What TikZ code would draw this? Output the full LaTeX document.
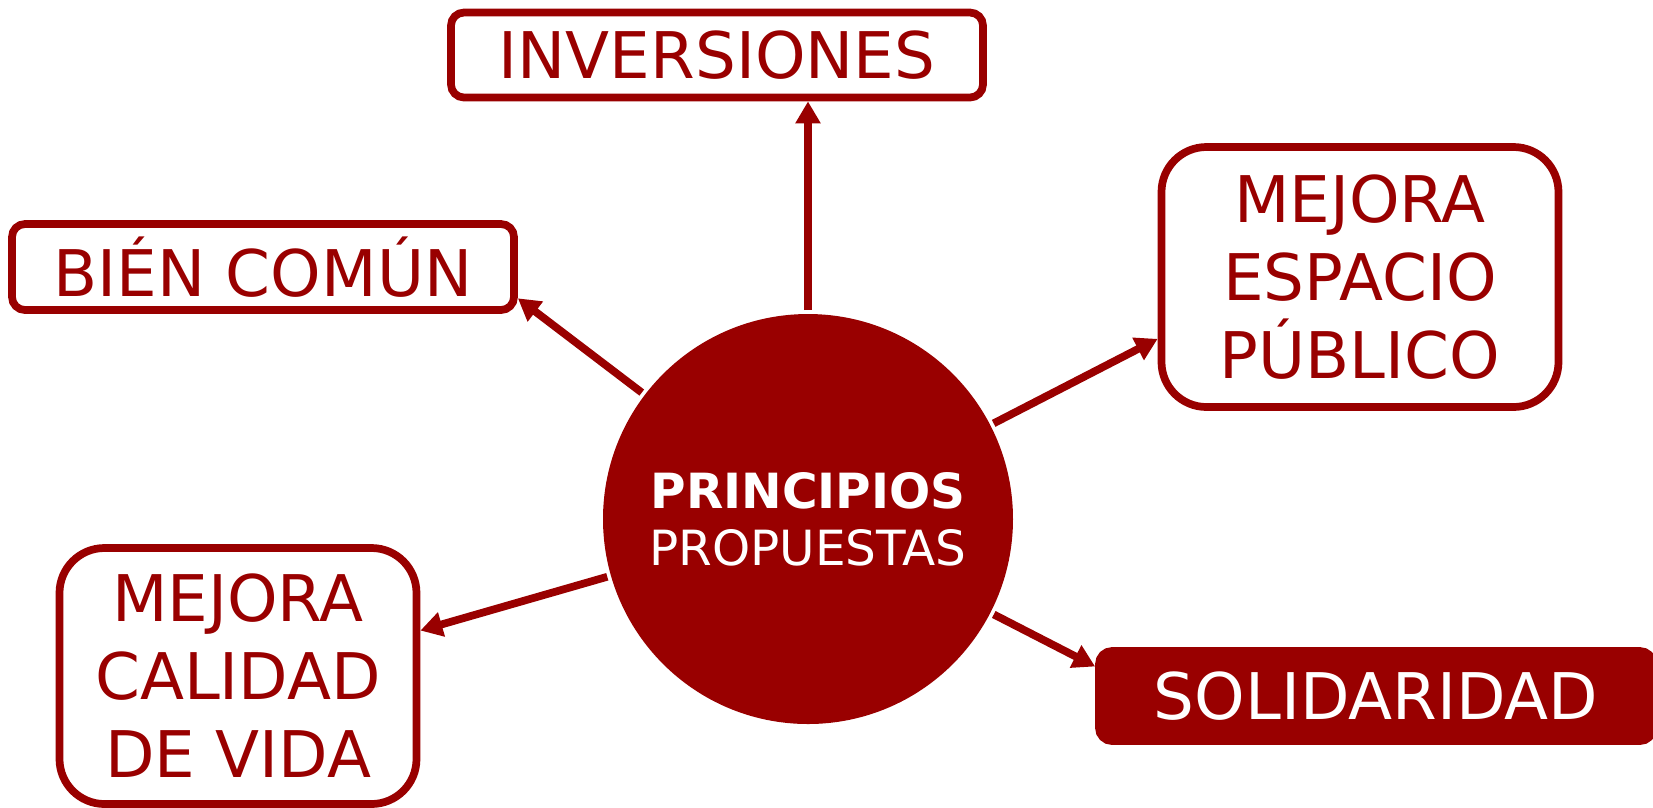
\documentclass[tikz,border=0pt]{standalone}
\usepackage{fontspec}
\setmainfont{DejaVu Sans}
\usetikzlibrary{arrows.meta}
\definecolor{granate}{HTML}{990000}

\begin{document}
\begin{tikzpicture}[x=1cm,y=1cm,line width=2.2pt,
  caja/.style={draw=granate,text=granate,rounded corners=#1,align=center,
    inner sep=0pt,font=\fontsize{18.3}{22.2}\selectfont},
  caja/.default=0.13cm,
  flecha/.style={draw=granate,-{Triangle[length=0.22cm,width=0.24cm]}}]
\useasboundingbox (0,0) rectangle (16.53,-8.07);
\node[circle,fill=granate,text=white,minimum size=4.1cm,inner sep=0pt,align=center,
  font=\fontsize{13.8}{16.3}\selectfont] (centro) at (8.08,-5.19)
  {{\bfseries PRINCIPIOS}\\PROPUESTAS};
\node[caja,minimum width=5.32cm,minimum height=0.85cm] (inv) at (7.17,-0.55) {INVERSIONES};
\node[caja,minimum width=5.02cm,minimum height=0.86cm] (bien) at (2.63,-2.67) {BIÉN COMÚN};
\node[caja=0.45cm,minimum width=3.97cm,minimum height=2.6cm] (espacio) at (13.60,-2.77)
  {MEJORA\\ESPACIO\\PÚBLICO};
\node[caja=0.45cm,minimum width=3.57cm,minimum height=2.56cm] (calidad) at (2.38,-6.76)
  {MEJORA\\CALIDAD\\DE VIDA};
\node[caja,fill=granate,text=white,minimum width=5.54cm,minimum height=0.9cm] (soli) at (13.76,-6.96)
  {SOLIDARIDAD};
\draw[flecha] (centro.north) -- (centro.north |- inv.south);
\draw[flecha] (centro) -- (bien.-7);
\draw[flecha] (centro) -- (espacio.197);
\draw[flecha] (centro) -- (calidad.14.5);
\draw[flecha] (centro) -- (soli.174);
\end{tikzpicture}
\end{document}
